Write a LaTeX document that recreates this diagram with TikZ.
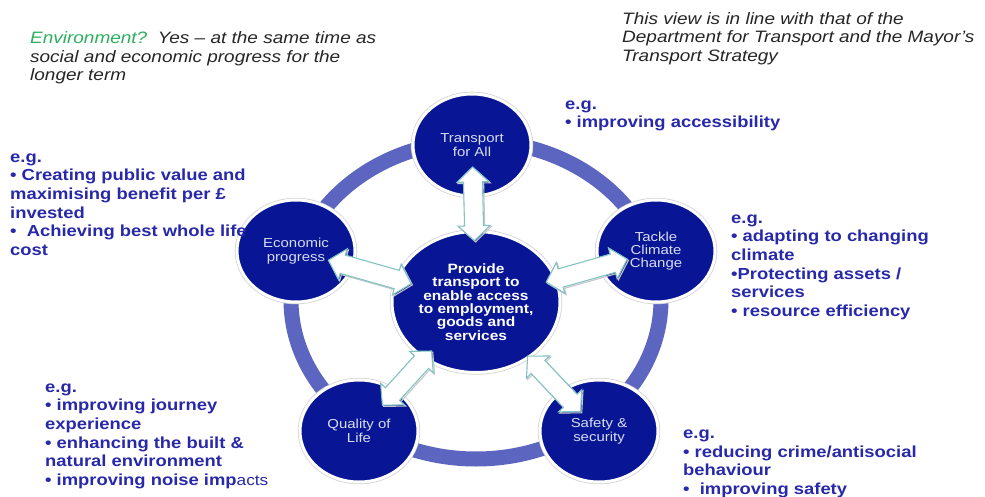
\documentclass[tikz,border=0pt]{standalone}
\usepackage{fontspec}
\setmainfont[FakeStretch=1.15]{Liberation Sans}
\usetikzlibrary{shapes.geometric,calc}
\definecolor{navy}{RGB}{8,22,150}
\definecolor{ringblue}{RGB}{92,102,192}
\definecolor{noteblue}{RGB}{40,40,170}
\definecolor{sattext}{RGB}{215,220,242}
\definecolor{arrowedge}{RGB}{130,195,195}
\definecolor{envgreen}{RGB}{45,175,95}
\definecolor{quotegray}{RGB}{38,38,38}
\newcommand\blockarrow[4]{%
  \coordinate (ba1) at ($(#1)!#3!(#2)$);
  \coordinate (ba2) at ($(#1)!#4!(#2)$);
  \coordinate (bq1) at ($(ba1)!15pt!(ba2)$);
  \coordinate (bq2) at ($(ba2)!15pt!(ba1)$);
  \draw[barrow] (ba1) -- ($(bq1)!16pt!90:(ba2)$) -- ($(bq1)!9.5pt!90:(ba2)$)
    -- ($(bq2)!9.5pt!90:(ba2)$) -- ($(bq2)!16pt!90:(ba2)$) -- (ba2)
    -- ($(bq2)!16pt!-90:(ba2)$) -- ($(bq2)!9.5pt!-90:(ba2)$)
    -- ($(bq1)!9.5pt!-90:(ba2)$) -- ($(bq1)!16pt!-90:(ba2)$) -- cycle;}
\begin{document}
\begin{tikzpicture}[x=1pt,y=-1pt,
  sat/.style={ellipse, fill=navy, draw=white, line width=3pt,
    preaction={draw=black!18, line width=4.5pt},
    minimum width=118pt, minimum height=102pt, inner sep=0pt,
    text=sattext, align=center, font=\fontsize{13}{13.3}\selectfont},
  hub/.style={sat, minimum width=168pt, minimum height=141pt,
    text=white, font=\bfseries\fontsize{13.5}{13.3}\selectfont},
  barrow/.style={fill=white, draw=arrowedge, line width=1.1pt, line join=miter,
    preaction={draw=black!22, line width=1.1pt, transform canvas={shift={(1.2pt,-1.2pt)}}}},
  note/.style={anchor=north west, align=left, inner sep=0pt, text=noteblue,
    font=\bfseries\fontsize{16}{18.7}\selectfont, execute at begin node=\strut},
  quote/.style={anchor=north west, align=left, inner sep=0pt, text=quotegray,
    font=\itshape\fontsize{16.5}{18.7}\selectfont, execute at begin node=\strut}]
\useasboundingbox (0,0) rectangle (985,497);
\fill[white] (0,0) rectangle (985,497);
% ring
\draw[ringblue, line width=15pt] (476,300) ellipse [x radius=185, y radius=159];
% satellites and hub
\node[sat] (tfa) at (472,145) {Transport\\for All};
\node[sat] (eco) at (296,251) {Economic\\progress};
\node[sat] (tcc) at (656,251) {Tackle\\Climate\\Change};
\node[sat] (qol) at (359,431) {Quality of\\Life};
\node[sat] (sas) at (599,431) {Safety \&\\security};
\node[hub] (hub) at (476,302) {Provide\\transport to\\enable access\\to employment,\\goods and\\services};
% arrows
\blockarrow{hub}{tfa}{0.39}{0.86}
\blockarrow{hub}{eco}{0.36}{0.82}
\blockarrow{hub}{tcc}{0.39}{0.84}
\blockarrow{hub}{qol}{0.38}{0.80}
\blockarrow{hub}{sas}{0.42}{0.85}
% texts
\node[quote] (q1) at (30,31.2) {{\color{envgreen}Environment?}\ \ Yes – at the same time as\\social and economic progress for the\\longer term};
\node[quote] (q2) at (622,12) {This view is in line with that of the\\Department for Transport and the Mayor’s\\Transport Strategy};
\node[note] (n1) at (565,100.2) {e.g.\\• improving accessibility};
\node[note] (n2) at (10,153.2) {e.g.\\• Creating public value and\\maximising benefit per £\\invested\\•\ \ Achieving best whole life\\cost};
\node[note] (n3) at (731,214.2) {e.g.\\• adapting to changing\\climate\\•Protecting assets /\\services\\• resource efficiency};
\node[note] (n4) at (45,383.2) {e.g.\\• improving journey\\experience\\• enhancing the built \&\\natural environment\\• improving noise imp{\mdseries\fontsize{15}{18.7}\selectfont acts}};
\node[note] (n5) at (683,429.7) {e.g.\\• reducing crime/antisocial\\behaviour\\•\ \ improving safety};
\end{tikzpicture}
\end{document}
